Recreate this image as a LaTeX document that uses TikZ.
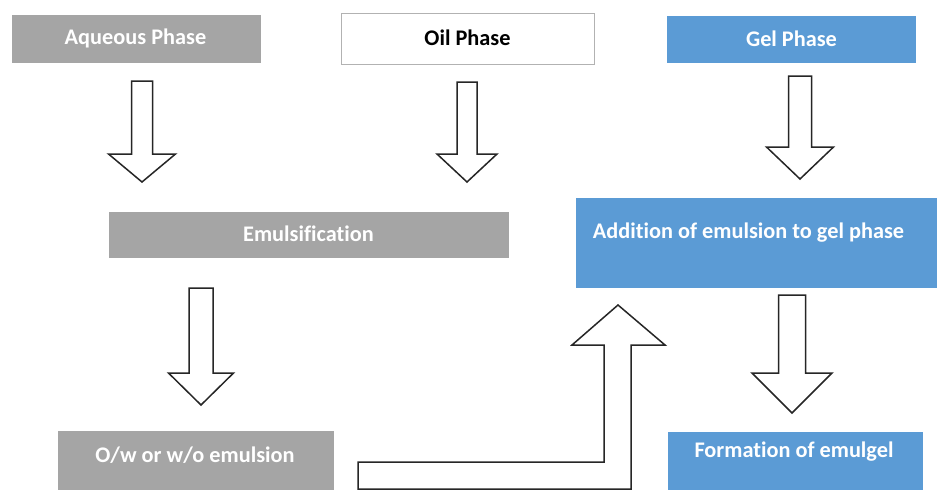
\documentclass[tikz,border=0pt]{standalone}
\usepackage{fontspec}
\setmainfont{Carlito}[Ligatures=NoCommon]
\definecolor{boxgray}{HTML}{A5A5A5}
\definecolor{boxblue}{HTML}{5B9BD5}
\begin{document}
\begin{tikzpicture}[x=1pt,y=-1pt,
  box/.style={rectangle, inner sep=0pt, outer sep=0pt, draw=none},
  lbl/.style={inner sep=0pt, font=\fontsize{22.3}{26}\selectfont\bfseries},
  wlbl/.style={lbl, text=white},
  blockarrow/.style={draw=black!85, line width=1.5pt, fill=white, line join=miter}]
\useasboundingbox (0,0) rectangle (937,490);
\fill[white] (0,0) rectangle (937,490);
% boxes
\node[box, fill=boxgray, minimum width=249pt, minimum height=48pt] (aq) at (136.5,39) {};
\node[wlbl] (aqt) at (135.5,38) {Aqueous Phase};
\node[box, fill=white, draw=black!30, line width=1pt, minimum width=253pt, minimum height=51pt] (oil) at (467.5,38.5) {};
\node[lbl] (oilt) at (467.5,38) {Oil Phase};
\node[box, fill=boxblue, minimum width=249pt, minimum height=47pt] (gel) at (791.5,39.5) {};
\node[wlbl] (gelt) at (791.5,39) {Gel Phase};
\node[box, fill=boxgray, minimum width=400pt, minimum height=46pt] (emu) at (309,235) {};
\node[wlbl] (emut) at (308.5,234) {Emulsification};
\node[box, fill=boxblue, minimum width=361pt, minimum height=90pt] (add) at (756.5,243) {};
\node[wlbl] (addt) at (748.5,233) {Addition of emulsion to gel phase};
\node[box, fill=boxgray, minimum width=276pt, minimum height=59pt] (ow) at (196,460.5) {};
\node[wlbl] (owt) at (195,455) {O/w or w/o emulsion};
\node[box, fill=boxblue, minimum width=255pt, minimum height=58pt] (form) at (795.5,461) {};
\node[wlbl] (formt) at (794,452) {Formation of emulgel};
% block arrows: cx, half shaft, top, head base, half head, tip
\newcommand{\dnarrow}[6]{%
  \draw[blockarrow] (#1-#2,#3) -- (#1+#2,#3) -- (#1+#2,#4) -- (#1+#5,#4) -- (#1,#6) -- (#1-#5,#4) -- (#1-#2,#4) -- cycle;}
\dnarrow{142}{10.5}{81}{154}{33.5}{182}
\dnarrow{467}{10}{82}{154}{30}{182}
\dnarrow{800}{11.5}{76}{147}{33.5}{179}
\dnarrow{201}{12}{288}{373}{32.5}{405}
\dnarrow{792}{13.5}{295}{373}{40}{413}
% bent arrow
\draw[blockarrow] (358,462) -- (604,462) -- (604,345) -- (572,345) -- (618,305) -- (665,345) -- (631,345) -- (631,489) -- (358,489) -- cycle;
\end{tikzpicture}
\end{document}
